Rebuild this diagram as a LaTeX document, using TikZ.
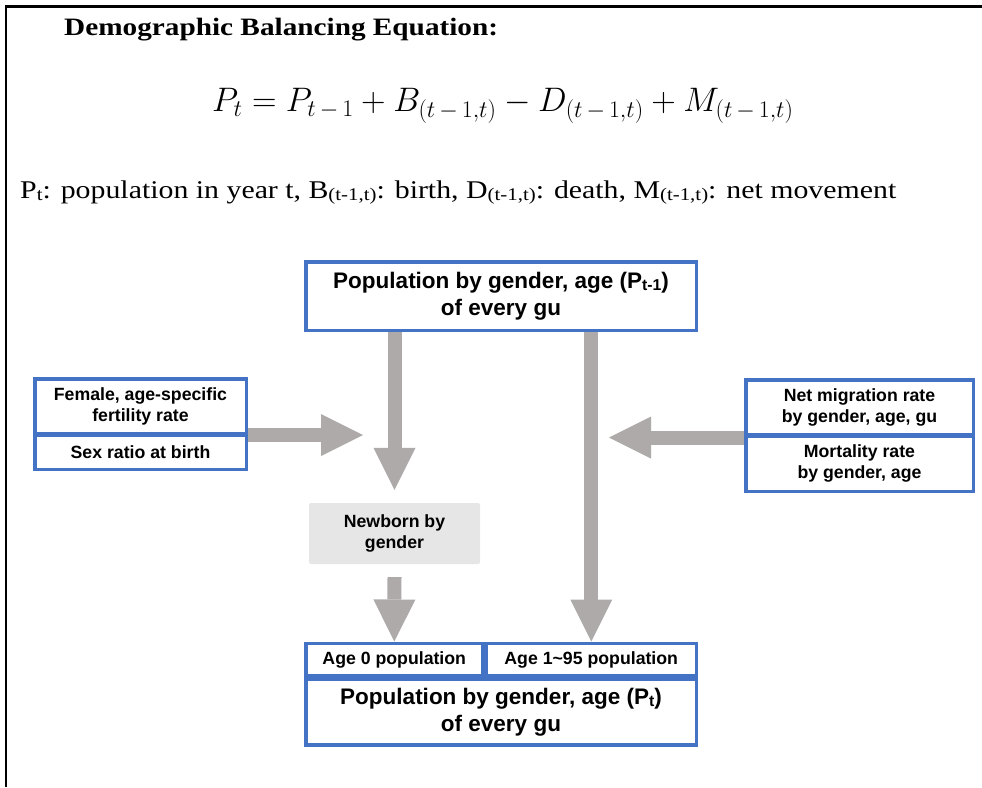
\RequirePackage{fix-cm}
\documentclass[tikz,border=0pt]{standalone}
\usepackage[no-math]{fontspec}
\setmainfont{Liberation Serif}
\setsansfont{Liberation Sans}
\newfontfamily\capfont[FakeStretch=1.17]{Liberation Serif}
\usepackage{graphicx}
\usetikzlibrary{arrows.meta,positioning}
\definecolor{boxBlue}{HTML}{4472C4}
\definecolor{flowGray}{HTML}{AEAAAA}
\definecolor{bornGray}{HTML}{E7E6E6}
\newcommand\smallsub[1]{\raisebox{-0.1em}{\scalebox{0.7}{#1}}}

\begin{document}
\begin{tikzpicture}[x=1pt,y=-1pt,>=Latex]
\tikzstyle{cellbox}=[draw=boxBlue,line width=3.5pt,fill=white,align=center,inner sep=0pt,font=\sffamily\bfseries\fontsize{17.7}{21}\selectfont]
\tikzstyle{bigtext}=[font=\sffamily\bfseries\fontsize{22.5}{27}\selectfont]
\tikzstyle{flow}=[draw=flowGray,line width=14pt,-{Triangle[length=42pt,width=42pt,line width=0pt]}]
\tikzstyle{plain}=[anchor=base west,inner sep=0pt]
\useasboundingbox (0,0) rectangle (982,787);
% frame
\draw[line width=2.5pt] (982,6.3) -- (5.8,6.3) -- (5.8,787);
% heading, equation and legend
\node[plain,font=\capfont\bfseries\fontsize{25}{30}\selectfont] (title) at (64,35) {Demographic Balancing Equation:};
\node[plain,font=\fontsize{34}{40}\selectfont] (eqn) at (212,111) {$P_t = P_{t\,-\,1} + B_{(t\,-\,1,t)} - D_{(t\,-\,1,t)} + M_{(t\,-\,1,t)}$};
\node[plain,font=\capfont\fontsize{25.5}{30}\selectfont] (legend) at (20,198) {P\smallsub{t}: population in year t, B\smallsub{(t-1,t)}: birth, D\smallsub{(t-1,t)}: death, M\smallsub{(t-1,t)}: net movement};
% boxes
\node[cellbox,bigtext,minimum width=390.5pt,minimum height=68.5pt] (prev) at (501,296) {Population by gender, age (P\smallsub{t-1})\\of every gu};
\node[cellbox,minimum width=211.5pt,minimum height=55pt] (fert) at (140.5,406.25) {Female, age-specific\\fertility rate};
\node[cellbox,minimum width=211.5pt,minimum height=34pt,below=-2pt of fert] (sex) {Sex ratio at birth};
\node[cellbox,minimum width=227.5pt,minimum height=55pt] (migr) at (859.5,407.25) {Net migration rate\\by gender, age, gu};
\node[cellbox,minimum width=227.5pt,minimum height=55pt,below=-2pt of migr] (mort) {Mortality rate\\by gender, age};
\node[fill=bornGray,rounded corners=2pt,minimum width=171pt,minimum height=61pt,align=center,font=\sffamily\bfseries\fontsize{17.7}{21}\selectfont] (newborn) at (394.5,533.5) {Newborn by\\gender};
\node[cellbox,minimum width=177pt,minimum height=32.5pt] (age0) at (394.25,659.5) {Age 0 population};
\node[cellbox,minimum width=210pt,minimum height=32.5pt,right=0pt of age0] (age195) {Age 1\textasciitilde 95 population};
\node[cellbox,bigtext,anchor=north west,minimum width=390.5pt,minimum height=65.5pt] (now) at (age0.south west) {Population by gender, age (P\smallsub{t})\\of every gu};
% flows
\coordinate (birthtip) at (363,435);
\coordinate (movetip) at (609,437.5);
\draw[flow] (prev.south -| newborn.north) -- ([yshift=13pt]newborn.north);
\draw[flow] (fert.east |- birthtip) -- (birthtip);
\draw[flow] (migr.west |- movetip) -- (movetip);
\draw[flow] ([yshift=-13pt]newborn.south) -- (age0.north);
\draw[flow] (prev.south -| age195.north) -- (age195.north);
\end{tikzpicture}
\end{document}
